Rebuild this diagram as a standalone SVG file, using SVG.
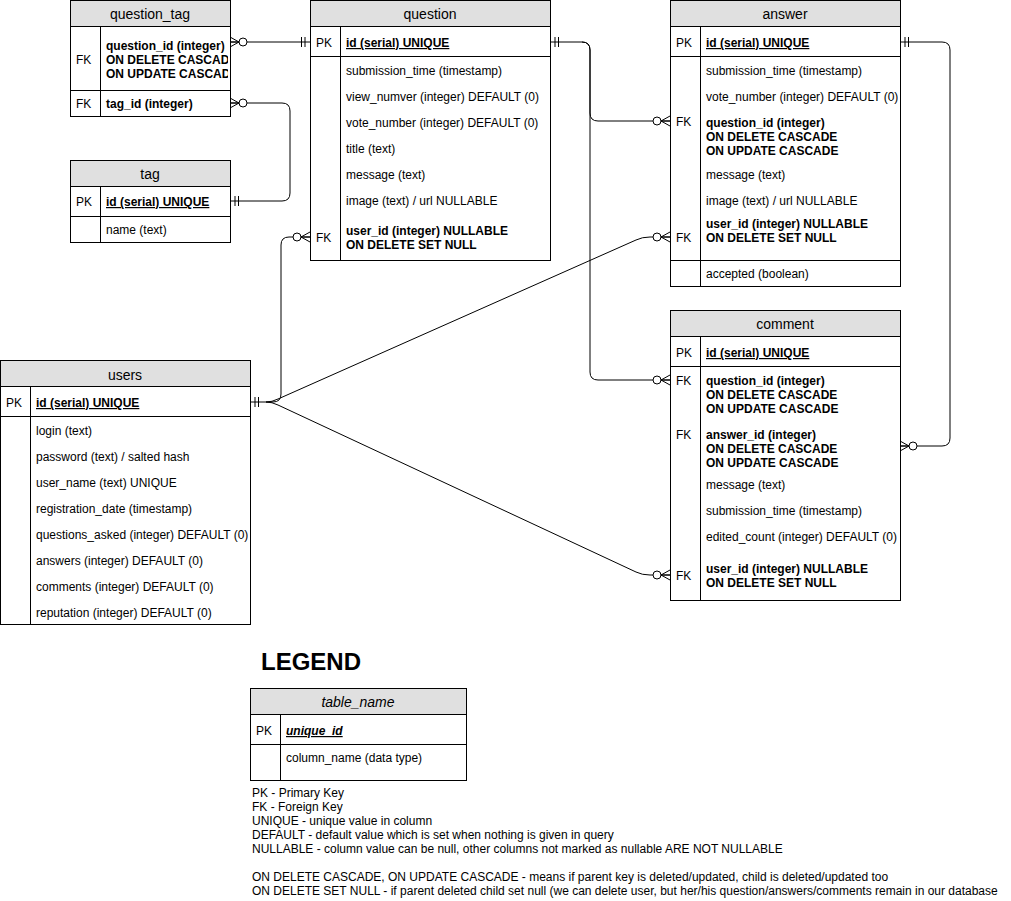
<svg xmlns="http://www.w3.org/2000/svg" width="1011" height="901" viewBox="0 0 1011 901">
  <style>
    text { font-family: "Liberation Sans", Arial, Helvetica, sans-serif; font-size: 12px; fill: #000; transform: translateY(1px); }
    .hdr { font-size: 14px; text-anchor: middle; }
    .b { font-weight: bold; }
    .u { text-decoration: underline; }
    .box { fill: #fff; stroke: #000; stroke-width: 1; }
    .head { fill: #e0e0e0; stroke: #000; stroke-width: 1; }
    .ln { stroke: #000; stroke-width: 1; fill: none; }
    .edge { stroke: #000; stroke-width: 1; fill: none; }
    .zm { marker-end: url(#zeroMany); }
    .legend { font-size: 12px; }
  </style>
  <defs>
    <!-- zero-or-many crow's foot; origin sits on the table edge, +x points into the table -->
    <marker id="zeroMany" markerUnits="userSpaceOnUse" orient="auto-start-reverse" viewBox="-20 -8 22 16" markerWidth="22" markerHeight="16" refX="0" refY="0" overflow="visible">
      <path d="M -9 0 L 0 -5 M -9 0 L 0 5 M -9 0 L 0 0" stroke="#000" stroke-width="1" fill="none"/>
      <circle cx="-13" cy="0" r="4" fill="#fff" stroke="#000" stroke-width="1"/>
    </marker>
    <!-- exactly-one (two bars) -->
    <marker id="oneOne" markerUnits="userSpaceOnUse" orient="auto-start-reverse" viewBox="-20 -8 22 16" markerWidth="22" markerHeight="16" refX="0" refY="0" overflow="visible">
      <path d="M -5 -5 V 5 M -8.5 -5 V 5" stroke="#000" stroke-width="1" fill="none"/>
    </marker>
    <clipPath id="clipQT"><rect x="70" y="0" width="158" height="118"/></clipPath>
    <clipPath id="clipAns"><rect x="670" y="0" width="228" height="290"/></clipPath>
    <clipPath id="clipUsers"><rect x="0" y="360" width="248" height="266"/></clipPath>
  </defs>

  <rect width="1011" height="901" fill="#fff"/>

  <!-- relationships -->
  <g id="connectors">
    <path class="edge" d="M 230 42 H 310" marker-start="url(#zeroMany)" marker-end="url(#oneOne)"/>
    <path class="edge" d="M 230 103 H 282 Q 290 103 290 111 V 193 Q 290 201 282 201 H 230" marker-start="url(#zeroMany)" marker-end="url(#oneOne)"/>
    <path class="edge" d="M 310 237 H 289 Q 281 237 281 245 V 394 Q 281 402 273 402 H 250" marker-start="url(#zeroMany)" marker-end="url(#oneOne)"/>
    <path class="edge zm" d="M 266 402 Q 272 402 278 399 L 636 240 Q 642 237 650 237 H 670"/>
    <path class="edge zm" d="M 266 402 Q 272 402 278 405 L 636 572 Q 642 575 650 575 H 670"/>
    <path class="edge" d="M 550 42 H 582 Q 590 42 590 50 V 113 Q 590 121 598 121 H 670" marker-start="url(#oneOne)" marker-end="url(#zeroMany)"/>
    <path class="edge zm" d="M 582 42 Q 590 42 590 50 V 372 Q 590 380 598 380 H 670"/>
    <path class="edge" d="M 900 42 H 942 Q 950 42 950 50 V 438 Q 950 446 942 446 H 900" marker-start="url(#oneOne)" marker-end="url(#zeroMany)"/>
  </g>

  <!-- question_tag -->
  <g id="question_tag">
    <rect class="box" x="70.5" y="0.5" width="160" height="116"/>
    <rect class="head" x="70.5" y="0.5" width="160" height="26"/>
    <text class="hdr" x="150" y="18">question_tag</text>
    <path class="ln" d="M 70.5 90.5 H 230.5 M 100.5 26.5 V 116.5"/>
    <text x="76" y="63">FK</text>
    <g clip-path="url(#clipQT)">
      <text class="b" x="106" y="49">question_id (integer)</text>
      <text class="b" x="106" y="63">ON DELETE CASCADE</text>
      <text class="b" x="106" y="77">ON UPDATE CASCADE</text>
    </g>
    <text x="76" y="107">FK</text>
    <text class="b" x="106" y="107">tag_id (integer)</text>
  </g>

  <!-- tag -->
  <g id="tag">
    <rect class="box" x="70.5" y="160.5" width="160" height="82"/>
    <rect class="head" x="70.5" y="160.5" width="160" height="26"/>
    <text class="hdr" x="150" y="178">tag</text>
    <path class="ln" d="M 70.5 216.5 H 230.5 M 100.5 186.5 V 242.5"/>
    <text x="76" y="205">PK</text>
    <text class="b u" x="106" y="205">id (serial) UNIQUE</text>
    <text x="106" y="233">name (text)</text>
  </g>

  <!-- question -->
  <g id="question">
    <rect class="box" x="310.5" y="0.5" width="240" height="260"/>
    <rect class="head" x="310.5" y="0.5" width="240" height="26"/>
    <text class="hdr" x="430" y="18">question</text>
    <path class="ln" d="M 310.5 56.5 H 550.5 M 340.5 26.5 V 260.5"/>
    <text x="316" y="46">PK</text>
    <text class="b u" x="346" y="46">id (serial) UNIQUE</text>
    <text x="346" y="74">submission_time (timestamp)</text>
    <text x="346" y="100">view_numver (integer) DEFAULT (0)</text>
    <text x="346" y="126">vote_number (integer) DEFAULT (0)</text>
    <text x="346" y="152">title (text)</text>
    <text x="346" y="178">message (text)</text>
    <text x="346" y="204">image (text) / url NULLABLE</text>
    <text x="316" y="241">FK</text>
    <text class="b" x="346" y="234">user_id (integer) NULLABLE</text>
    <text class="b" x="346" y="248">ON DELETE SET NULL</text>
  </g>

  <!-- answer -->
  <g id="answer">
    <rect class="box" x="670.5" y="0.5" width="230" height="286"/>
    <rect class="head" x="670.5" y="0.5" width="230" height="26"/>
    <text class="hdr" x="785" y="18">answer</text>
    <path class="ln" d="M 670.5 56.5 H 900.5 M 670.5 260.5 H 900.5 M 700.5 26.5 V 286.5"/>
    <text x="676" y="46">PK</text>
    <text class="b u" x="706" y="46">id (serial) UNIQUE</text>
    <g clip-path="url(#clipAns)">
      <text x="706" y="74">submission_time (timestamp)</text>
      <text x="706" y="100">vote_number (integer) DEFAULT (0)</text>
    </g>
    <text x="676" y="125">FK</text>
    <text class="b" x="706" y="126">question_id (integer)</text>
    <text class="b" x="706" y="140">ON DELETE CASCADE</text>
    <text class="b" x="706" y="154">ON UPDATE CASCADE</text>
    <text x="706" y="178">message (text)</text>
    <text x="706" y="204">image (text) / url NULLABLE</text>
    <text x="676" y="241">FK</text>
    <text class="b" x="706" y="227">user_id (integer) NULLABLE</text>
    <text class="b" x="706" y="241">ON DELETE SET NULL</text>
    <text x="706" y="277">accepted (boolean)</text>
  </g>

  <!-- comment -->
  <g id="comment">
    <rect class="box" x="670.5" y="310.5" width="230" height="290"/>
    <rect class="head" x="670.5" y="310.5" width="230" height="26"/>
    <text class="hdr" x="785" y="328">comment</text>
    <path class="ln" d="M 670.5 366.5 H 900.5 M 700.5 336.5 V 600.5"/>
    <text x="676" y="356">PK</text>
    <text class="b u" x="706" y="356">id (serial) UNIQUE</text>
    <text x="676" y="384">FK</text>
    <text class="b" x="706" y="384">question_id (integer)</text>
    <text class="b" x="706" y="398">ON DELETE CASCADE</text>
    <text class="b" x="706" y="412">ON UPDATE CASCADE</text>
    <text x="676" y="438">FK</text>
    <text class="b" x="706" y="438">answer_id (integer)</text>
    <text class="b" x="706" y="452">ON DELETE CASCADE</text>
    <text class="b" x="706" y="466">ON UPDATE CASCADE</text>
    <text x="706" y="488">message (text)</text>
    <text x="706" y="514">submission_time (timestamp)</text>
    <text x="706" y="540">edited_count (integer) DEFAULT (0)</text>
    <text x="676" y="579">FK</text>
    <text class="b" x="706" y="572">user_id (integer) NULLABLE</text>
    <text class="b" x="706" y="586">ON DELETE SET NULL</text>
  </g>

  <!-- users -->
  <g id="users">
    <rect class="box" x="0.5" y="360.5" width="250" height="264"/>
    <rect class="head" x="0.5" y="360.5" width="250" height="26"/>
    <text class="hdr" x="125" y="379">users</text>
    <path class="ln" d="M 0.5 416.5 H 250.5 M 30.5 386.5 V 624.5"/>
    <text x="6" y="406">PK</text>
    <text class="b u" x="36" y="406">id (serial) UNIQUE</text>
    <g clip-path="url(#clipUsers)">
      <text x="36" y="434">login (text)</text>
      <text x="36" y="460">password (text) / salted hash</text>
      <text x="36" y="486">user_name (text) UNIQUE</text>
      <text x="36" y="512">registration_date (timestamp)</text>
      <text x="36" y="538">questions_asked (integer) DEFAULT (0)</text>
      <text x="36" y="564">answers (integer) DEFAULT (0)</text>
      <text x="36" y="590">comments (integer) DEFAULT (0)</text>
      <text x="36" y="616">reputation (integer) DEFAULT (0)</text>
    </g>
  </g>

  <!-- legend -->
  <g id="legend">
    <text class="b" x="261" y="669" style="font-size:24px">LEGEND</text>
    <rect class="box" x="250.5" y="688.5" width="216" height="92"/>
    <rect class="head" x="250.5" y="688.5" width="216" height="26"/>
    <text class="hdr" x="358" y="706" font-style="italic">table_name</text>
    <path class="ln" d="M 250.5 744.5 H 466.5 M 280.5 714.5 V 780.5"/>
    <text x="256" y="734">PK</text>
    <text class="b u" x="286" y="734" font-style="italic">unique_id</text>
    <text x="286" y="761">column_name (data type)</text>
    <text class="legend" x="252" y="796">PK - Primary Key</text>
    <text class="legend" x="252" y="810">FK - Foreign Key</text>
    <text class="legend" x="252" y="824">UNIQUE - unique value in column</text>
    <text class="legend" x="252" y="838">DEFAULT - default value which is set when nothing is given in query</text>
    <text class="legend" x="252" y="852">NULLABLE - column value can be null, other columns not marked as nullable ARE NOT NULLABLE</text>
    <text class="legend" x="252" y="880">ON DELETE CASCADE, ON UPDATE CASCADE - means if parent key is deleted/updated, child is deleted/updated too</text>
    <text class="legend" x="252" y="894">ON DELETE SET NULL - if parent deleted child set null (we can delete user, but her/his question/answers/comments remain in our database</text>
  </g>
</svg>
